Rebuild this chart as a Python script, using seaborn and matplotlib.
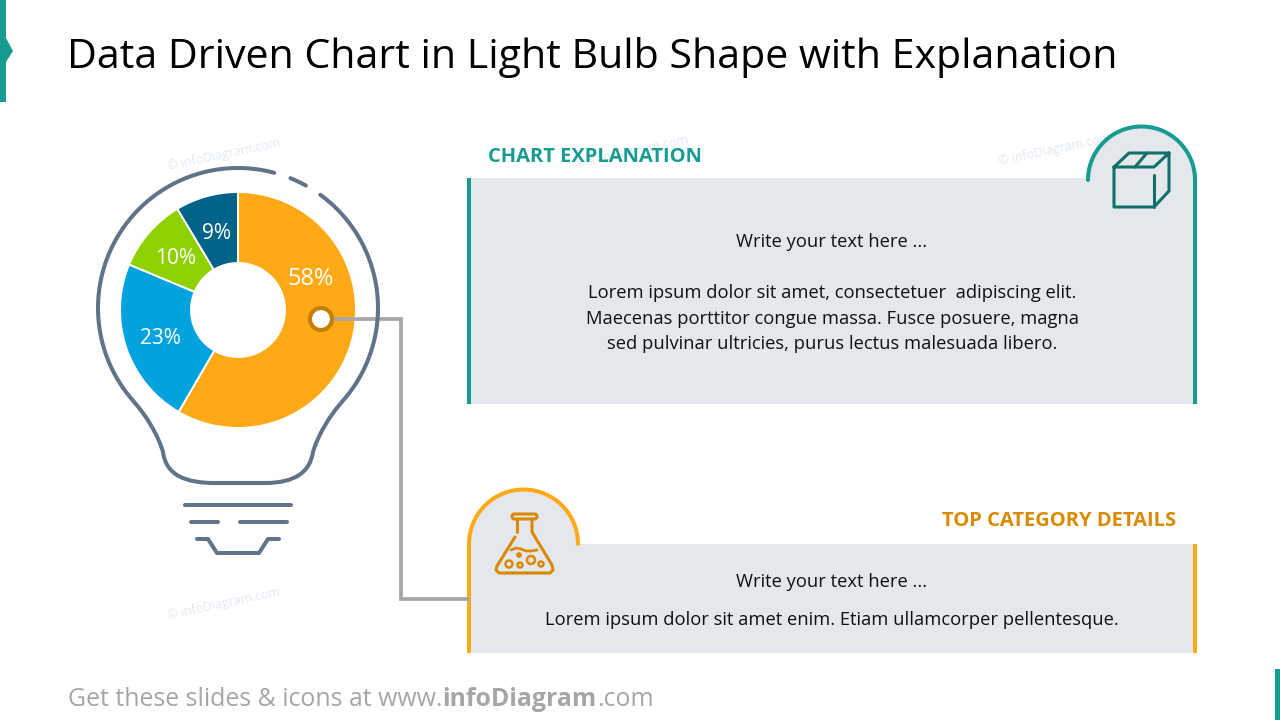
import numpy as np
import matplotlib
matplotlib.use('Agg')
import matplotlib.pyplot as plt
import seaborn as sns
from matplotlib.patches import Rectangle, Circle, Polygon, PathPatch, FancyBboxPatch
from matplotlib.path import Path

# chart values
categories = ['Top category', 'Second', 'Third', 'Fourth']
shares = [58.4, 22.9, 10.1, 8.6]
slice_colors = ['#FFA916', '#00A3DD', '#8FD100', '#006389']

title = 'Data Driven Chart in Light Bulb Shape with Explanation'
top_body = ['Write your text here ...',
            'Lorem ipsum dolor sit amet, consectetuer  adipiscing elit.',
            'Maecenas porttitor congue massa. Fusce posuere, magna',
            'sed pulvinar ultricies, purus lectus malesuada libero.']
bottom_body = ['Write your text here ...',
               'Lorem ipsum dolor sit amet enim. Etiam ullamcorper pellentesque.']

TEAL = '#179C91'
TEAL_DARK = '#117069'
ORANGE = '#FFA916'
ORANGE_DARK = '#DA8A00'
GREY_BOX = '#E4E7EB'
BULB = '#5F7488'
LINE_GREY = '#A6A6A6'
MARK = '#E2E9F3'

sns.set_theme(style='white')
plt.rcParams['font.family'] = ['Open Sans', 'DejaVu Sans']

fig = plt.figure(figsize=(12.8, 7.2), dpi=100)
ax = fig.add_axes([0, 0, 1, 1])


def Y(y):
    # reference pixels count from the top
    return 720 - y


def line(points, color, lw, z=3, cap='round', join='round'):
    xs = [p[0] for p in points]
    ys = [Y(p[1]) for p in points]
    ax.plot(xs, ys, color=color, lw=lw, zorder=z, solid_capstyle=cap, solid_joinstyle=join)


def arc(cx, cy, r, a0, a1, color, lw, z=3):
    t = np.radians(np.linspace(a0, a1, 200))
    ax.plot(cx + r * np.cos(t), Y(cy) + r * np.sin(t), color=color, lw=lw, zorder=z,
            solid_capstyle='round')


def ring(cx, cy, r, color, lw, z=5):
    ax.add_patch(Circle((cx, Y(cy)), r, fc='none', ec=color, lw=lw, zorder=z))


def label(x, y, s, size=13.2, color='#111111', ha='center', **kw):
    return ax.text(x, Y(y), s, fontsize=size, color=color, ha=ha, va='center', **kw)


# corner accents
ax.add_patch(Rectangle((0, Y(102)), 6, 102, fc=TEAL, ec='none'))
ax.add_patch(Polygon([(6, Y(38)), (13, Y(51)), (6, Y(62))], fc=TEAL, ec='none'))
ax.add_patch(Rectangle((1275, 0), 5, 51, fc=TEAL, ec='none'))

label(67, 57, title, size=29.6, color='#000000', ha='left')

# watermarks
for wx, wy in [(224, 155), (224, 604), (1055, 150), (632, 152)]:
    label(wx, wy, '\u00a9 infoDiagram.com', size=9, color=MARK, rotation=12, zorder=0.5)

# doughnut
wedges, texts, autotexts = ax.pie(
    shares, colors=sns.color_palette(slice_colors), startangle=90, counterclock=False,
    center=(238, Y(310)), radius=118, autopct='%.0f%%', pctdistance=0.695,
    wedgeprops=dict(width=71, edgecolor='white', linewidth=1.4),
    textprops=dict(color='white', fontsize=15))
autotexts[0].set_fontsize(17)
for w in wedges:
    w.set_zorder(2)
for a in autotexts:
    a.set_zorder(4)
    px, py = a.get_position()
    a.set_position((px, py - 2.5))
autotexts[0].set_position((311, Y(279)))

# bulb outline
arc(238, 308, 140, -42, 54, BULB, 2.9)
arc(238, 308, 140, 61, 68, BULB, 2.9)
arc(238, 308, 140, 75, 222, BULB, 2.9)
neck = [(134, 402), (146, 415), (158, 435), (163, 452), (166, 475), (185, 483), (215, 483),
        (265, 483), (295, 483), (310, 472), (313, 452), (318, 435), (330, 415), (342, 402)]
neck_codes = [Path.MOVETO] + [Path.CURVE4] * 6 + [Path.LINETO] + [Path.CURVE4] * 6
ax.add_patch(PathPatch(Path([(x, Y(y)) for x, y in neck], neck_codes), fc='none', ec=BULB,
                       lw=2.9, zorder=3))
line([(185, 505), (291, 505)], BULB, 2.9)
line([(191, 522), (218, 522)], BULB, 2.9)
line([(240, 522), (287, 522)], BULB, 2.9)
line([(197, 539), (208, 539), (217, 553), (259, 553), (268, 539), (279, 539)], BULB, 2.9)

# connector
line([(333, 319), (401, 319), (401, 599), (468, 599)], LINE_GREY, 2.7, z=2.5, join='miter')
ax.add_patch(Circle((321, Y(319)), 11, fc='white', ec='#C77F00', lw=3, zorder=4))

# top panel
ax.add_patch(Rectangle((467, Y(404)), 730, 226, fc=GREY_BOX, ec='none', zorder=1))
ax.add_patch(Circle((1141.5, Y(180)), 54, fc=GREY_BOX, ec='none', zorder=1))
ax.add_patch(Rectangle((467, Y(404)), 4, 226, fc=TEAL, ec='none', zorder=2))
ax.add_patch(Rectangle((1193, Y(404)), 4, 224, fc=TEAL, ec='none', zorder=2))
arc(1141.5, 180, 53.5, 0, 180, TEAL, 2.9)
label(488, 157, 'CHART EXPLANATION', size=14.5, color=TEAL, ha='left', fontweight='bold')
for s, y in zip(top_body, [242, 293, 319, 344]):
    label(832, y, s, zorder=4)

# box icon
line([(1114, 167), (1154, 167), (1169, 153), (1129, 153), (1114, 167), (1114, 207), (1154, 207),
      (1169, 191), (1169, 153)], TEAL_DARK, 2.2, z=5)
line([(1154, 175), (1154, 207)], TEAL_DARK, 2.2, z=5)
line([(1135, 167), (1147, 153)], TEAL_DARK, 2.2, z=5)

# bottom panel
ax.add_patch(Rectangle((467, Y(653)), 730, 109, fc=GREY_BOX, ec='none', zorder=1))
ax.add_patch(Circle((523.5, Y(544)), 54, fc=GREY_BOX, ec='none', zorder=1))
ax.add_patch(Rectangle((467, Y(653)), 4, 109, fc=ORANGE, ec='none', zorder=2))
ax.add_patch(Rectangle((1193, Y(653)), 4, 109, fc=ORANGE, ec='none', zorder=2))
arc(523.5, 544, 54.5, 0, 180, ORANGE, 2.9)
label(1176, 521, 'TOP CATEGORY DETAILS', size=14.5, color=ORANGE_DARK, ha='right', fontweight='bold')
for s, y in zip(bottom_body, [582, 620]):
    label(832, y, s, zorder=4)

# flask icon
ax.add_patch(FancyBboxPatch((512, Y(519)), 25, 5, boxstyle='round,pad=0,rounding_size=2.5',
                            fc='none', ec=ORANGE_DARK, lw=2.2, zorder=5))
line([(517, 519), (517, 532)], ORANGE_DARK, 2.2, z=5)
line([(532, 519), (532, 532), (552, 565), (553, 570), (550, 573), (499, 573), (496, 570),
      (497, 566), (515, 537)], ORANGE_DARK, 2.2, z=5)
wave_x = np.array([511, 516, 521, 526, 531, 537])
wave_y = np.array([550, 548, 549, 551, 551, 550])
line(list(zip(wave_x, wave_y)), ORANGE_DARK, 2, z=5)
ring(509, 564, 3.5, ORANGE_DARK, 1.8)
ring(520, 565, 2.5, ORANGE_DARK, 1.8)
ring(531, 560, 4, ORANGE_DARK, 1.8)
ring(541, 564, 2.5, ORANGE_DARK, 1.8)
ax.add_patch(Circle((519, Y(555)), 2.9, fc=ORANGE_DARK, ec='none', zorder=5))

# footer
ax.set_xlim(0, 1280)
ax.set_ylim(0, 720)
ax.set_aspect('auto')
ax.axis('off')

fig.canvas.draw()
x = 68
for s, weight in [('Get these slides & icons at www.', 'normal'), ('infoDiagram', 'bold'), ('.com', 'normal')]:
    t = label(x, 699, s, size=17.9, color=LINE_GREY, ha='left', fontweight=weight)
    x = t.get_window_extent(fig.canvas.get_renderer()).x1

fig.savefig('out.png', dpi=100, facecolor='white')
